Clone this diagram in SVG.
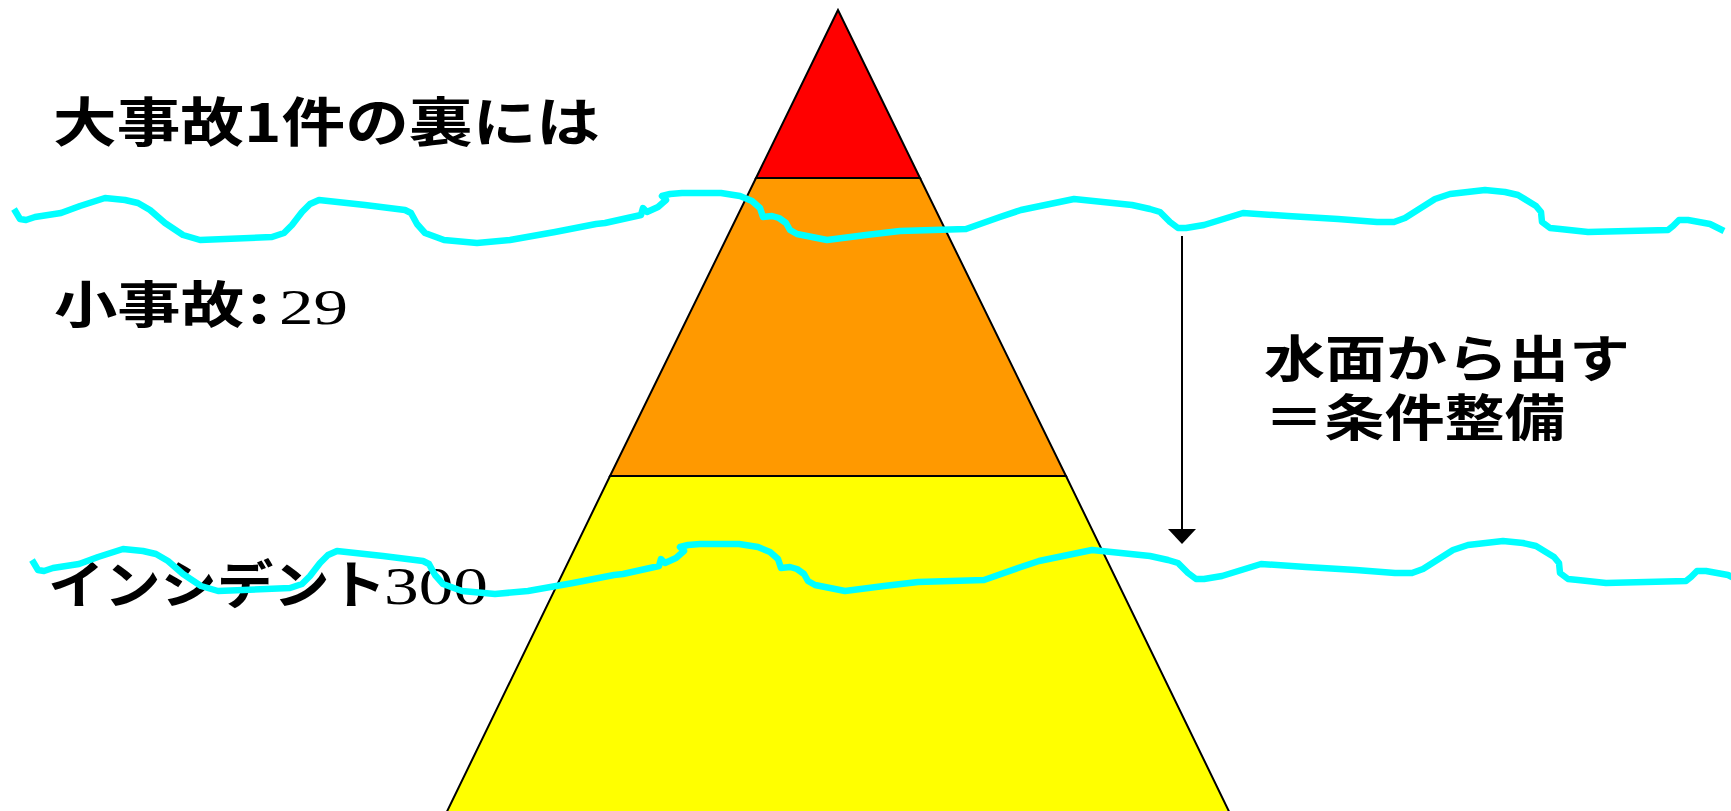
<svg xmlns="http://www.w3.org/2000/svg" xmlns:xlink="http://www.w3.org/1999/xlink" width="1731" height="811" viewBox="0 0 1731 811">
<style>
.tier{stroke:#000;stroke-width:2;stroke-linejoin:miter}
.jp{font-family:"Noto Sans CJK JP","Noto Sans CJK SC",sans-serif;font-weight:700;fill:#000}
.num{font-family:"Liberation Serif","DejaVu Serif",serif;font-weight:400;fill:#000}
.wave{fill:none;stroke:#00FFFF;stroke-width:6.5;stroke-linejoin:round;stroke-linecap:butt}
.conn{stroke:#000;stroke-width:2;fill:none}
</style>
<defs>
<marker id="arrow" markerUnits="userSpaceOnUse" markerWidth="16" markerHeight="28" viewBox="0 0 14 26" refX="0" refY="13" orient="auto">
<path d="M0,0 L14,13 L0,26 Z" fill="#000"/>
</marker>
<path id="wavePath" d="M14,209 L20,219 L26,220 L35,217 L61,213 L80,206 L105,198 L125,200 L138,203 L150,210 L165,223 L183,235 L200,240 L272,237 L284,233 L292,225 L302,212 L310,204 L319,200 L365,205 L405,210 L411,213 L417,224 L425,233 L444,240 L477,243 L510,240 L555,232 L596,224 L605,223 L641,215 L643,208 L647,212 L658,207 L666,200 L662,196 L670,194 L682,193 L721,193 L740,196 L752,201 L760,208 L763,217 L772,216 L779,218 L786,223 L790,230 L797,234 L827,240 L866,235 L900,231 L966,229 L1000,217 L1021,210 L1074,199 L1132,205 L1150,209 L1160,212 L1170,222 L1178,228 L1186,228 L1204,225 L1243,213 L1288,216 L1338,219 L1377,222 L1394,222 L1405,218 L1435,199 L1450,194 L1485,190 L1505,192 L1518,195 L1536,206 L1541,212 L1542,222 L1550,228 L1560,229 L1588,232 L1668,230 L1673,226 L1679,220 L1688,220 L1710,224 L1724,231"/>
</defs>
<rect width="1731" height="811" fill="#fff"/>
<g id="pyramid">
<g id="tier-top"><polygon class="tier" fill="#FF0000" points="838,10 756,178 920,178"/></g>
<g id="tier-middle"><polygon class="tier" fill="#FF9900" points="756,178 920,178 1066,476 610,476"/></g>
<g id="tier-bottom"><polygon class="tier" fill="#FFFF00" points="610,476 1066,476 1238,830 438,830"/></g>
</g>
<g id="label-major">
<text class="jp" x="53" y="142" font-size="53" textLength="547" lengthAdjust="spacingAndGlyphs">大事故1件の裏には</text>
</g>
<g id="label-minor">
<text class="jp" x="54" y="323" font-size="50" textLength="190" lengthAdjust="spacingAndGlyphs">小事故</text>
<text class="jp" x="248" y="323" font-size="52" textLength="22" lengthAdjust="spacingAndGlyphs">:</text>
<text class="num" x="279" y="324" font-size="50" textLength="69" lengthAdjust="spacingAndGlyphs">29</text>
</g>
<g id="label-incident">
<text class="jp" x="48" y="604" font-size="52" textLength="338" lengthAdjust="spacingAndGlyphs">インシデント</text>
<text class="num" x="384" y="604" font-size="53" textLength="104" lengthAdjust="spacingAndGlyphs">300</text>
</g>
<g id="label-surface">
<text class="jp" font-size="50"><tspan x="1264" y="377" textLength="366" lengthAdjust="spacingAndGlyphs">水面から出す</tspan><tspan x="1264" y="436" textLength="301" lengthAdjust="spacingAndGlyphs">＝条件整備</tspan></text>
</g>
<g id="waterlines">
<use id="waterline-upper" xlink:href="#wavePath" href="#wavePath" class="wave"/>
<use id="waterline-lower" xlink:href="#wavePath" href="#wavePath" class="wave" transform="translate(18,351)"/>
</g>
<g id="connectors">
<line class="conn" x1="1182" y1="236" x2="1182" y2="529" marker-end="url(#arrow)"/>
</g>
</svg>
